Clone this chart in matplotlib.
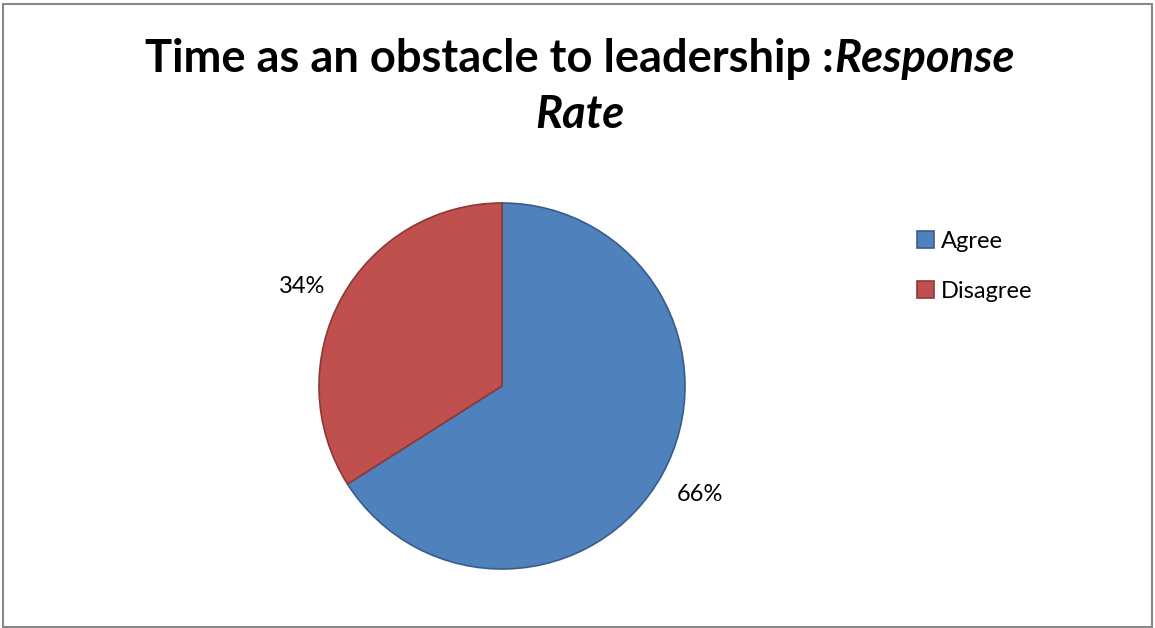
import matplotlib
matplotlib.use("Agg")
import matplotlib.pyplot as plt
from matplotlib.patches import Rectangle

labels = ["Agree", "Disagree"]
values = [66, 34]
colors = ["#4F81BD", "#C0504D"]
edges = ["#385D8A", "#8C3836"]

W, H = 1155, 628
fig = plt.figure(figsize=(W / 100, H / 100), dpi=100)
plt.rcParams['font.family'] = ['Lato', 'DejaVu Sans']

cx, cy, r = 502, 386, 183
ax = fig.add_axes([(cx - r) / W, (H - cy - r) / H, 2 * r / W, 2 * r / H])
wedges, texts, autotexts = ax.pie(
    values, colors=colors, startangle=90, counterclock=False,
    autopct=lambda p: f"{p:.0f}%", pctdistance=1.235,
    wedgeprops=dict(linewidth=1.2), textprops=dict(fontsize=17, color="#000000"))
for w, ec in zip(wedges, edges):
    w.set_edgecolor(ec)
# small nudge of the Disagree label, as in the reference
px, py = autotexts[1].get_position()
autotexts[1].set_position((px - 0.01, py - 0.05))
ax.set_aspect("equal")
ax.set_xlim(-1, 1)
ax.set_ylim(-1, 1)

leg = fig.legend(wedges, labels, loc="upper left", bbox_to_anchor=(917 / W, 1 - 231 / H),
                 frameon=False, fontsize=17, handlelength=0.7, handleheight=0.7,
                 handletextpad=0.3, labelspacing=1.22, borderpad=0, borderaxespad=0)

# Title: mixed bold / bold italic
fs = 32.6
renderer = fig.canvas.get_renderer()
part1 = "Time as an obstacle to leadership :"
part2 = "Response"
y1 = 1 - 59 / H
y2 = 1 - 115 / H
t1 = fig.text(0, y1, part1, fontsize=fs, fontweight="bold", va="center", ha="left")
t2 = fig.text(0, y1, part2, fontsize=fs, fontweight="bold", fontstyle="italic", va="center", ha="left")
w1 = t1.get_window_extent(renderer).width
w2 = t2.get_window_extent(renderer).width
total = w1 + w2
xc = 580
x0 = xc - total / 2
t1.set_x(x0 / W)
t2.set_x((x0 + w1) / W)
fig.text(xc / W, y2, "Rate", fontsize=fs, fontweight="bold", fontstyle="italic", va="center", ha="center")

fig.patches.append(Rectangle((3 / W, 1 / H), (W - 6) / W, (H - 5) / H, transform=fig.transFigure,
                             fill=False, edgecolor="#888888", linewidth=1.5))

fig.savefig("out.png", dpi=100)
